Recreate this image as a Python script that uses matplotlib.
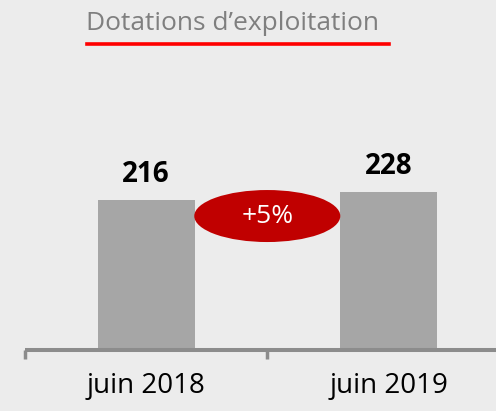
import matplotlib
matplotlib.use("Agg")
import matplotlib.pyplot as plt
from matplotlib.patches import Ellipse
from matplotlib.lines import Line2D

plt.rcParams['font.family'] = ['Open Sans', 'DejaVu Sans']

categories = ["juin 2018", "juin 2019"]
values = [216, 228]
value_labels = ["216", "228"]
title = "Dotations d’exploitation"
growth_label = "+5%"

W, H = 496, 411
fig = plt.figure(figsize=(W / 100, H / 100), dpi=100)
fig.patch.set_facecolor('#ececec')
ax = fig.add_axes([0, 0, 1, 1])
ax.set_facecolor('none')

x = list(range(len(categories)))
ax.bar(x, values, width=0.4, color='#a6a6a6', zorder=2)

for s in ['top', 'right', 'left']:
    ax.spines[s].set_visible(False)
ax.spines['bottom'].set_position(('data', -2.6))
ax.spines['bottom'].set_bounds(-0.5, 1.5)
ax.spines['bottom'].set_color('#8c8c8c')
ax.spines['bottom'].set_linewidth(2.9)
ax.spines['bottom'].set_capstyle('butt')
ax.set_yticks([])
ax.set_xticks(x)
ax.set_xticklabels(categories, fontsize=20, color='#000000')
ax.tick_params(axis='x', which='major', length=0, pad=16)
ax.set_xticks([-0.5, 0.5, 1.5], minor=True)
ax.tick_params(axis='x', which='minor', length=6.5, width=2.5, color='#8c8c8c')

# limits set after ticks (set_xticks would otherwise expand them)
ax.set_xlim(-0.602, 1.443)
ax.set_ylim(-92.5, 508.3)

for xi, v, lab in zip(x, values, value_labels):
    ax.annotate(lab, (xi, v), xytext=(0, 13), textcoords='offset points',
                ha='center', va='baseline', fontsize=20, fontweight='bold',
                color='#000000', zorder=4)

ell_y = 192.5
ell = Ellipse((0.5, ell_y), width=146 / 242.5,
              height=52 / 0.684, facecolor='#c00000', edgecolor='none', zorder=3)
ax.add_patch(ell)
ax.text(0.5, ell_y, growth_label, ha='center', va='center',
        fontsize=19, color='white', zorder=4)

fig.text(233 / W, 1 - 30 / H, title, ha='center', va='baseline', fontsize=19,
         color='#7f7f7f')
fig.add_artist(Line2D([87 / W, 389 / W], [1 - 44 / H, 1 - 44 / H],
                      transform=fig.transFigure, color='#ff0000', lw=2.6))

fig.savefig('out.png', dpi=100, facecolor=fig.get_facecolor())
